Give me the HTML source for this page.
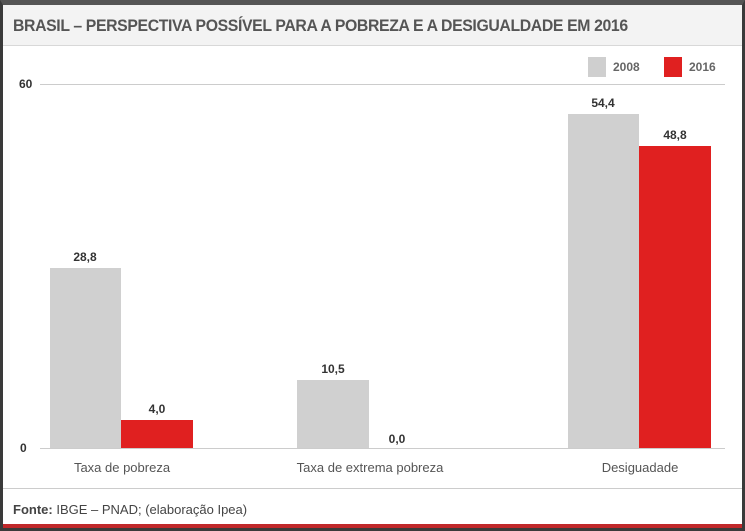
<!DOCTYPE html>
<html><head><meta charset="utf-8"><style>
body{margin:0;width:745px;height:531px;overflow:hidden;background:#fff;font-family:"Liberation Sans",sans-serif;}
.frame{position:absolute;left:0;top:0;width:745px;height:531px;box-sizing:border-box;border:3px solid #3a3a3a;border-top:5px solid #555;background:#fff;}
.title{position:absolute;left:3px;top:5px;width:739px;height:40px;background:#f3f3f3;border-bottom:1px solid #d8d8d8;}
.title span{position:absolute;left:10px;top:11px;font-size:17px;font-weight:bold;color:#555;letter-spacing:-0.4px;transform:scaleX(0.93);transform-origin:left;white-space:nowrap}
.abs{position:absolute}
.lbl{position:absolute;font-size:12px;font-weight:bold;color:#333;transform:translateX(-50%)}
.cat{position:absolute;font-size:13px;color:#555;transform:translateX(-50%);top:460px;white-space:nowrap}
</style></head><body>
<div class="frame"></div>
<div class="title"><span>BRASIL – PERSPECTIVA POSSÍVEL PARA A POBREZA E A DESIGUALDADE EM 2016</span></div>
<div class="abs" style="left:588px;top:57px;width:18px;height:20px;background:#cfcfcf"></div>
<div class="abs" style="left:613px;top:60px;font-size:12px;font-weight:bold;color:#666">2008</div>
<div class="abs" style="left:664px;top:57px;width:18px;height:20px;background:#e02020"></div>
<div class="abs" style="left:689px;top:60px;font-size:12px;font-weight:bold;color:#666">2016</div>
<div class="abs" style="left:19px;top:77px;font-size:12px;font-weight:bold;color:#333">60</div>
<div class="abs" style="left:20px;top:441px;font-size:12px;font-weight:bold;color:#333">0</div>
<div class="abs" style="left:40px;top:84px;width:685px;height:1px;background:#ccc"></div>
<div class="abs" style="left:50px;top:268px;width:71px;height:180px;background:#d0d0d0"></div>
<div class="abs" style="left:121px;top:420px;width:72px;height:28px;background:#e02020"></div>
<div class="abs" style="left:297px;top:380px;width:72px;height:68px;background:#d0d0d0"></div>
<div class="abs" style="left:568px;top:114px;width:71px;height:334px;background:#d0d0d0"></div>
<div class="abs" style="left:639px;top:146px;width:72px;height:302px;background:#e02020"></div>
<div class="abs" style="left:40px;top:448px;width:685px;height:1px;background:#ccc"></div>
<div class="lbl" style="left:85px;top:250px">28,8</div>
<div class="lbl" style="left:157px;top:402px">4,0</div>
<div class="lbl" style="left:333px;top:362px">10,5</div>
<div class="lbl" style="left:397px;top:432px">0,0</div>
<div class="lbl" style="left:603px;top:96px">54,4</div>
<div class="lbl" style="left:675px;top:128px">48,8</div>
<div class="cat" style="left:122px">Taxa de pobreza</div>
<div class="cat" style="left:370px">Taxa de extrema pobreza</div>
<div class="cat" style="left:640px">Desiguadade</div>
<div class="abs" style="left:3px;top:488px;width:739px;height:1px;background:#ccc"></div>
<div class="abs" style="left:13px;top:502px;font-size:13px;color:#444"><b>Fonte:</b> IBGE – PNAD; (elaboração Ipea)</div>
<div class="abs" style="left:3px;top:524px;width:739px;height:4px;background:#c0282a"></div>
</body></html>
